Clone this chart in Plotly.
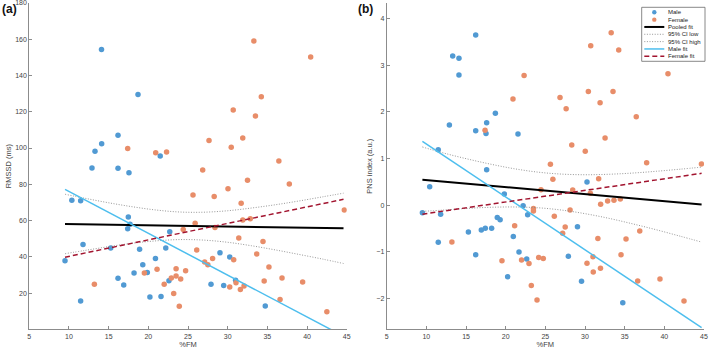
import plotly.graph_objects as go

W, H = 709, 349

# ---------------- data: panel (a) RMSSD ----------------
male_fm_a = [14.1, 18.7, 16.18, 14.12, 13.28, 21.5, 12.9, 16.18, 17.56, 10.36, 11.47, 17.48, 17.7, 17.4,
             11.77, 15.26, 18.9, 22.2, 22.7, 9.5, 20.9, 19.3, 19.87, 18.2, 16.18, 16.9, 11.47, 20.2, 21.6,
             22.6, 29.03, 30.26, 27.9, 29.5, 31.0, 34.74]
male_rmssd = [154.3, 129.5, 107.0, 102.4, 98.2, 95.6, 89.0, 88.8, 86.4, 71.2, 70.9, 62.0, 57.9, 55.5,
              46.8, 44.8, 44.1, 44.8, 53.8, 37.8, 39.1, 35.6, 31.4, 31.0, 28.2, 24.4, 15.6, 17.8, 18.1,
              26.8, 42.2, 39.9, 24.8, 24.1, 27.0, 12.8]
female_fm_a = [33.3, 40.46, 34.24, 30.7, 33.5, 31.9, 27.65, 30.45, 17.4, 20.93, 22.3, 36.45, 26.85, 32.5,
               37.77, 30.04, 25.63, 28.3, 31.7, 44.7, 25.9, 24.4, 28.4, 31.9, 32.85, 31.4, 34.45, 26.1,
               33.66, 30.76, 27.1, 27.5, 28.1, 35.2, 21.1, 19.5, 23.5, 24.7, 23.5, 24.08, 22.9, 22.0,
               13.2, 23.2, 23.9, 30.26, 31.05, 31.6, 32.06, 34.6, 36.85, 39.45, 36.6, 42.5]
female_rmssd = [159.0, 150.2, 128.3, 121.0, 117.7, 105.5, 104.2, 100.4, 99.8, 97.4, 97.8, 92.8, 87.9, 82.2,
                80.1, 77.6, 74.1, 73.2, 69.6, 65.8, 58.5, 55.0, 56.2, 60.3, 61.0, 50.4, 48.5, 43.7,
                41.5, 38.4, 37.1, 35.6, 39.1, 34.4, 33.1, 31.0, 33.4, 32.3, 29.4, 27.7, 28.3, 24.8,
                24.8, 19.7, 12.7, 23.3, 25.7, 22.0, 23.9, 26.6, 28.3, 26.1, 16.4, 9.7]

fit_x_a = [9.5, 44.6]
pooled_a = [58.1, 55.7]
male_fit_a = [77.2, -3.8]
female_fit_a = [39.8, 71.7]
ci_x_a = [9.5, 12, 15, 18, 21, 24, 27, 30, 33, 36, 39, 42, 44.6]
ci_low_a = [41.7, 43.5, 45.6, 47.5, 48.8, 49.5, 49.2, 48.0, 46.1, 43.8, 41.3, 38.7, 36.3]
ci_high_a = [74.5, 72.3, 69.8, 67.6, 65.8, 64.7, 64.6, 65.4, 66.9, 68.7, 70.8, 73.1, 75.1]

# ---------------- data: panel (b) PNS index ----------------
male_fm_b = [16.22, 13.32, 14.11, 14.11, 18.7, 17.6, 12.9, 16.22, 17.52, 21.55, 11.5, 17.6, 10.42, 9.5,
             11.8, 11.5, 15.3, 16.22, 16.93, 17.43, 18.23, 18.94, 19.3, 19.83, 20.96, 21.68, 20.25, 22.2,
             22.77, 22.65, 27.9, 29.05, 30.25, 29.56, 34.76]
male_pns = [3.65, 3.2, 3.15, 2.79, 1.97, 1.77, 1.72, 1.6, 1.54, 1.53, 1.19, 0.76, 0.40, -0.16,
            -0.19, -0.79, -0.57, -1.06, -0.53, -0.49, -0.49, -0.26, -0.31, 0.24, -0.67, -1.0, -1.53, -0.01,
            -0.2, -1.15, -1.09, -0.46, 0.5, -1.63, -2.09]
female_fm_b = [33.3, 30.72, 34.25, 40.46, 22.32, 30.42, 33.53, 20.92, 26.85, 31.9, 27.62, 36.46, 17.4, 32.53,
               28.33, 30.03, 25.64, 37.77, 44.68, 25.95, 31.72, 24.45, 28.45, 30.67, 31.97, 32.85, 33.65,
               34.45, 23.5, 23.5, 28.12, 26.13, 27.5, 27.18, 21.13, 31.62, 35.17, 36.9, 13.22, 19.53, 22.0,
               22.94, 24.16, 24.74, 23.23, 23.95, 30.25, 31.04, 31.0, 31.95, 34.54, 36.64, 39.45, 42.48]
female_pns = [3.7, 3.42, 3.33, 2.82, 2.78, 2.44, 2.44, 2.28, 2.31, 2.2, 2.07, 1.9, 1.61, 1.44,
              1.29, 1.16, 0.88, 0.91, 0.885, 0.56, 0.57, 0.335, 0.33, 0.26, 0.02, 0.09, 0.11,
              0.135, -0.07, -0.12, -0.1, -0.235, -0.465, -0.6, -0.44, -0.71, -0.72, -0.55, -0.785, -1.19, -1.17,
              -1.245, -1.12, -1.14, -1.72, -2.03, -1.24, -1.43, -1.1, -1.35, -1.06, -1.62, -1.58, -2.05]

fit_x_b = [9.5, 44.7]
pooled_b = [0.55, 0.015]
male_fit_b = [1.37, -2.62]
female_fit_b = [-0.19, 0.685]
ci_x_b = [9.5, 12, 15, 18, 21, 24, 27, 30, 33, 36, 39, 42, 44.7]
ci_low_b = [-0.13, -0.104, -0.068, -0.043, -0.036, -0.052, -0.101, -0.179, -0.279, -0.397, -0.525, -0.662, -0.788]
ci_high_b = [1.25, 1.128, 1.0, 0.885, 0.786, 0.712, 0.669, 0.655, 0.665, 0.691, 0.729, 0.774, 0.818]

x_ticks = [5, 10, 15, 20, 25, 30, 35, 40, 45]
y_ticks_a = [20, 40, 60, 80, 100, 120, 140, 160, 180]
y_ticks_b = [-2, -1, 0, 1, 2, 3, 4]
legend_labels = ["Male", "Female", "Pooled fit", "95% CI low", "95% CI high", "Male fit", "Female fit"]

# ---------------- styles ----------------
C_MALE = "#519ad3"
C_FEMALE = "#e88d69"
C_MFIT = "#4DBEEE"
C_FFIT = "#A2142F"
C_CI = "#8a8a8a"
AX = "#8c8c8c"
TXT = "#444444"
FONT = "Liberation Sans, Arial, sans-serif"
DASH = "5px,3px"
DOT = "1px,1.6px"

fig = go.Figure()


def add_panel(xa, ya, mx, my, fx, fy, fitx, pooled, mfit, ffit, cix, cilo, cihi):
    fig.add_trace(go.Scatter(x=mx, y=my, mode="markers", xaxis=xa, yaxis=ya,
                             marker=dict(color=C_MALE, size=5.5, line=dict(width=0)), showlegend=False))
    fig.add_trace(go.Scatter(x=fx, y=fy, mode="markers", xaxis=xa, yaxis=ya,
                             marker=dict(color=C_FEMALE, size=5.5, line=dict(width=0)), showlegend=False))
    fig.add_trace(go.Scatter(x=fitx, y=pooled, mode="lines", xaxis=xa, yaxis=ya,
                             line=dict(color="black", width=2), showlegend=False))
    fig.add_trace(go.Scatter(x=cix, y=cilo, mode="lines", xaxis=xa, yaxis=ya,
                             line=dict(color=C_CI, width=0.9, dash=DOT, shape="spline"), showlegend=False))
    fig.add_trace(go.Scatter(x=cix, y=cihi, mode="lines", xaxis=xa, yaxis=ya,
                             line=dict(color=C_CI, width=0.9, dash=DOT, shape="spline"), showlegend=False))
    fig.add_trace(go.Scatter(x=fitx, y=mfit, mode="lines", xaxis=xa, yaxis=ya,
                             line=dict(color=C_MFIT, width=1.5), showlegend=False))
    fig.add_trace(go.Scatter(x=fitx, y=ffit, mode="lines", xaxis=xa, yaxis=ya,
                             line=dict(color=C_FFIT, width=1.5, dash=DASH), showlegend=False))


add_panel("x", "y", male_fm_a, male_rmssd, female_fm_a, female_rmssd, fit_x_a, pooled_a,
          male_fit_a, female_fit_a, ci_x_a, ci_low_a, ci_high_a)
add_panel("x2", "y2", male_fm_b, male_pns, female_fm_b, female_pns, fit_x_b, pooled_b,
          male_fit_b, female_fit_b, ci_x_b, ci_low_b, ci_high_b)

ydom = [1 - 329.3 / H, 1 - 3 / H]
common_x = dict(range=[5, 45.001], tickvals=x_ticks, ticks="inside", ticklen=3, tickcolor=AX,
                showline=True, linecolor=AX, linewidth=1, showgrid=False, zeroline=False,
                tickfont=dict(size=7, color=TXT, family=FONT), automargin=False,
                ticklabeloverflow="allow",
                title=dict(text="%FM", font=dict(size=7.5, color=TXT, family=FONT), standoff=1))
common_y = dict(ticks="inside", ticklen=3, tickcolor=AX, showline=True, linecolor=AX, linewidth=1,
                showgrid=False, zeroline=False, automargin=False, ticklabeloverflow="allow",
                tickfont=dict(size=7, color=TXT, family=FONT))

fig.update_layout(
    width=W, height=H, margin=dict(l=0, r=0, t=0, b=0),
    paper_bgcolor="white", plot_bgcolor="white", showlegend=False,
    font=dict(family=FONT, color=TXT),
    xaxis=dict(domain=[29.3 / W, 346.7 / W], anchor="y", **common_x),
    yaxis=dict(domain=ydom, anchor="x", range=[0, 180.01], tickvals=y_ticks_a,
               title=dict(text="RMSSD (ms)", font=dict(size=7.5, color=TXT, family=FONT), standoff=2),
               **common_y),
    xaxis2=dict(domain=[386.7 / W, 704 / W], anchor="y2", **common_x),
    yaxis2=dict(domain=ydom, anchor="x2", range=[-2.657, 4.335], tickvals=y_ticks_b,
                title=dict(text="PNS index (a.u.)", font=dict(size=7.5, color=TXT, family=FONT), standoff=2),
                **common_y),
)


def P(px, py):
    return px / W, 1 - py / H


annotations = []
for lab, px in (("(a)", 0), ("(b)", 356)):
    x, y = P(px, 9)
    annotations.append(dict(text="<b>%s</b>" % lab, x=x, y=y, xref="paper", yref="paper",
                            xanchor="left", yanchor="middle", showarrow=False,
                            font=dict(size=12, color="#111", family=FONT)))

# ---- compact legend box (drawn in paper coordinates) ----
shapes = []
bx0, by0 = P(641.7, 7.3)
bx1, by1 = P(705, 61.3)
shapes.append(dict(type="rect", xref="paper", yref="paper", x0=bx0, y0=by1, x1=bx1, y1=by0,
                   line=dict(color="#6a6a6a", width=0.8), fillcolor="white", layer="above"))
row_y = [12.3 + 7.33 * i for i in range(len(legend_labels))]
line_styles = [None, None,
               dict(color="black", width=2),
               dict(color=C_CI, width=0.9, dash=DOT),
               dict(color=C_CI, width=0.9, dash=DOT),
               dict(color=C_MFIT, width=1.5),
               dict(color=C_FFIT, width=1.5, dash=DASH)]
marker_cols = [C_MALE, C_FEMALE]
for i, (lab, ry) in enumerate(zip(legend_labels, row_y)):
    if i < 2:
        r = 2.2
        cx0, cy0 = P(654.3 - r, ry - r)
        cx1, cy1 = P(654.3 + r, ry + r)
        shapes.append(dict(type="circle", xref="paper", yref="paper", x0=cx0, y0=cy1, x1=cx1, y1=cy0,
                           fillcolor=marker_cols[i], line=dict(width=0), layer="above"))
    else:
        lx0, ly = P(644.3, ry)
        lx1, _ = P(664.3, ry)
        shapes.append(dict(type="line", xref="paper", yref="paper", x0=lx0, y0=ly, x1=lx1, y1=ly,
                           line=line_styles[i], layer="above"))
    tx, ty = P(665.5, ry)
    annotations.append(dict(text=lab, x=tx, y=ty, xref="paper", yref="paper", xanchor="left",
                            yanchor="middle", showarrow=False,
                            font=dict(size=6, color="#222", family=FONT)))

fig.update_layout(annotations=annotations, shapes=shapes)
fig.write_html("out.html")
